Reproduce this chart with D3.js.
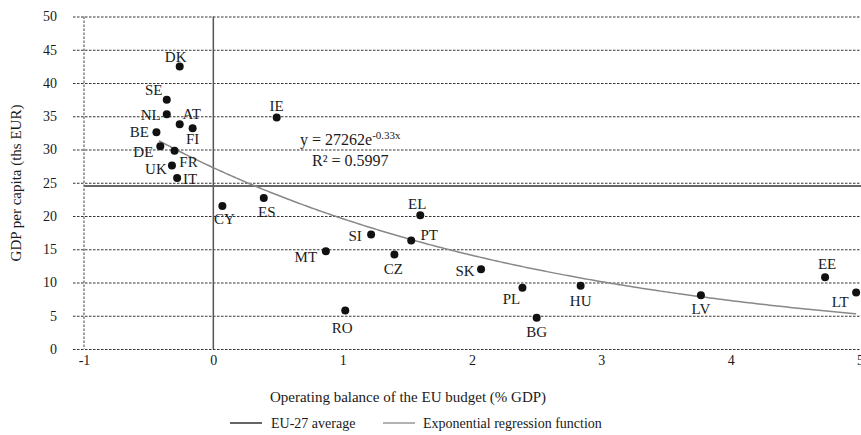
<!DOCTYPE html>
<html>
<head>
<meta charset="utf-8">
<script src="https://cdn.jsdelivr.net/npm/d3@7"></script>
<style>
  body { margin: 0; background: #fff; }
  text { font-family: "Liberation Serif", "Times New Roman", serif; fill: #1a1a1a; }
</style>
</head>
<body>
<div id="chart"></div>
<script>
// country codes, operating balance (% GDP) and GDP per capita (ths EUR)
let countries = ["DK", "SE", "NL", "AT", "FI", "BE", "DE", "FR", "UK", "IT", "IE", "CY", "ES",
                 "EL", "SI", "PT", "MT", "CZ", "SK", "PL", "RO", "BG", "HU", "LV", "EE", "LT"];
let balance = [-0.26, -0.36, -0.36, -0.26, -0.16, -0.44, -0.41, -0.30, -0.32, -0.28, 0.49, 0.07, 0.39,
               1.60, 1.22, 1.53, 0.87, 1.40, 2.07, 2.39, 1.02, 2.50, 2.84, 3.77, 4.73, 4.97];
let gdp = [42.5, 37.5, 35.3, 33.8, 33.2, 32.6, 30.5, 29.8, 27.6, 25.7, 34.8, 21.5, 22.7,
           20.1, 17.2, 16.3, 14.7, 14.2, 12.0, 9.2, 5.8, 4.7, 9.5, 8.1, 10.8, 8.5];

let xTicks = [-1, 0, 1, 2, 3, 4, 5];
let yTicks = [0, 5, 10, 15, 20, 25, 30, 35, 40, 45, 50];

let euAverage = 24.5;
// exponential regression y = 27262 e^(-0.33x), in ths EUR
let trendA = 27.262, trendB = -0.33;
let trendRange = [-0.42, 4.97];

// label offsets from each dot (px), placed by hand like the original
let labelPos = {
    DK: [-4, -10], SE: [-13, -10], NL: [-16, 0], AT: [12, -10], FI: [0, 11],
    BE: [-17, 0], DE: [-17, 6], FR: [14, 11], UK: [-16, 3], IT: [13, 1],
    IE: [0, -12], CY: [2, 13], ES: [3, 14], EL: [-3, -12], SI: [-16, 1],
    PT: [18, -6], MT: [-20, 6], CZ: [-1, 14], SK: [-16, 2], PL: [-11, 11],
    RO: [-3, 17], BG: [0, 14], HU: [0, 15], LV: [0, 14], EE: [2, -13], LT: [-16, 9]
};

let width = 861, height = 435;

let svg = d3.select("#chart").append("svg")
    .attr("width", width)
    .attr("height", height);

let x = d3.scaleLinear().domain([-1, 5]).range([84, 860]);
let y = d3.scaleLinear().domain([0, 50]).range([349, 16.5]);

// horizontal dashed grid lines + y labels
let yAxis = svg.append("g")
    .attr("transform", "translate(73,0)")
    .call(d3.axisLeft(y).tickValues(yTicks).tickSize(-(width - 73)).tickPadding(16));
yAxis.select(".domain").remove();
yAxis.selectAll("line")
    .attr("stroke", "#333")
    .attr("stroke-dasharray", "2.5,1.5");
yAxis.selectAll("text")
    .style("font-family", "Liberation Serif, serif")
    .style("font-size", "14px")
    .attr("fill", "#1a1a1a");

// left dashed border at x = -1
svg.append("line")
    .attr("x1", x(-1)).attr("x2", x(-1))
    .attr("y1", y(50)).attr("y2", y(0))
    .attr("stroke", "#444")
    .attr("stroke-dasharray", "2.5,1.5");

// x labels
let xAxis = svg.append("g")
    .attr("transform", "translate(0," + y(0) + ")")
    .call(d3.axisBottom(x).tickValues(xTicks).tickSize(0).tickPadding(6)
        .tickFormat(function (d) { return String(d); }));
xAxis.select(".domain").remove();
xAxis.selectAll("text")
    .style("font-family", "Liberation Serif, serif")
    .style("font-size", "14px")
    .attr("fill", "#1a1a1a");

// solid line at x = 0
svg.append("line")
    .attr("x1", x(0)).attr("x2", x(0))
    .attr("y1", y(50)).attr("y2", y(0))
    .attr("stroke", "#555")
    .attr("stroke-width", 1.5);

// EU-27 average
svg.append("line")
    .attr("x1", x(-1)).attr("x2", width)
    .attr("y1", y(euAverage)).attr("y2", y(euAverage))
    .attr("stroke", "#666")
    .attr("stroke-width", 2);

// regression curve
let trendX = d3.range(trendRange[0], trendRange[1], 0.02).concat([trendRange[1]]);
let trendLine = d3.line()
    .x(function (d) { return x(d); })
    .y(function (d) { return y(trendA * Math.exp(trendB * d)); });
svg.append("path")
    .datum(trendX)
    .attr("d", trendLine)
    .attr("fill", "none")
    .attr("stroke", "#888")
    .attr("stroke-width", 1.5);

// points
let points = countries.map(function (c, i) { return {code: c, x: balance[i], y: gdp[i]}; });

svg.selectAll("circle.dot")
    .data(points)
    .enter()
    .append("circle")
    .attr("class", "dot")
    .attr("cx", function (d) { return x(d.x); })
    .attr("cy", function (d) { return y(d.y); })
    .attr("r", 4)
    .attr("fill", "#111");

svg.selectAll("text.lbl")
    .data(points)
    .enter()
    .append("text")
    .attr("class", "lbl")
    .attr("x", function (d) { return x(d.x) + labelPos[d.code][0]; })
    .attr("y", function (d) { return y(d.y) + labelPos[d.code][1]; })
    .attr("dy", "0.35em")
    .attr("text-anchor", "middle")
    .style("font-size", "15px")
    .text(function (d) { return d.code; });

// equation
let eq = svg.append("text").attr("x", 300).attr("y", 145).style("font-size", "16px");
eq.append("tspan").text("y = 27262e");
eq.append("tspan").attr("dy", -6).style("font-size", "11px").text("-0.33x");
svg.append("text").attr("x", 312).attr("y", 166).style("font-size", "16px").text("R² = 0.5997");

// axis titles
svg.append("text")
    .attr("transform", "translate(21,183) rotate(-90)")
    .attr("text-anchor", "middle")
    .style("font-size", "15px")
    .text("GDP per capita (ths EUR)");

svg.append("text")
    .attr("x", 408).attr("y", 402)
    .attr("text-anchor", "middle")
    .style("font-size", "15px")
    .text("Operating balance of the EU budget (% GDP)");

// legend
svg.append("line").attr("x1", 230).attr("x2", 262).attr("y1", 423).attr("y2", 423)
    .attr("stroke", "#111").attr("stroke-width", 1.3);
svg.append("text").attr("x", 271).attr("y", 428).style("font-size", "14px").text("EU-27 average");
svg.append("line").attr("x1", 383).attr("x2", 415).attr("y1", 423).attr("y2", 423)
    .attr("stroke", "#888").attr("stroke-width", 1.3);
svg.append("text").attr("x", 423).attr("y", 428).style("font-size", "14px").text("Exponential regression function");
</script>
</body>
</html>
